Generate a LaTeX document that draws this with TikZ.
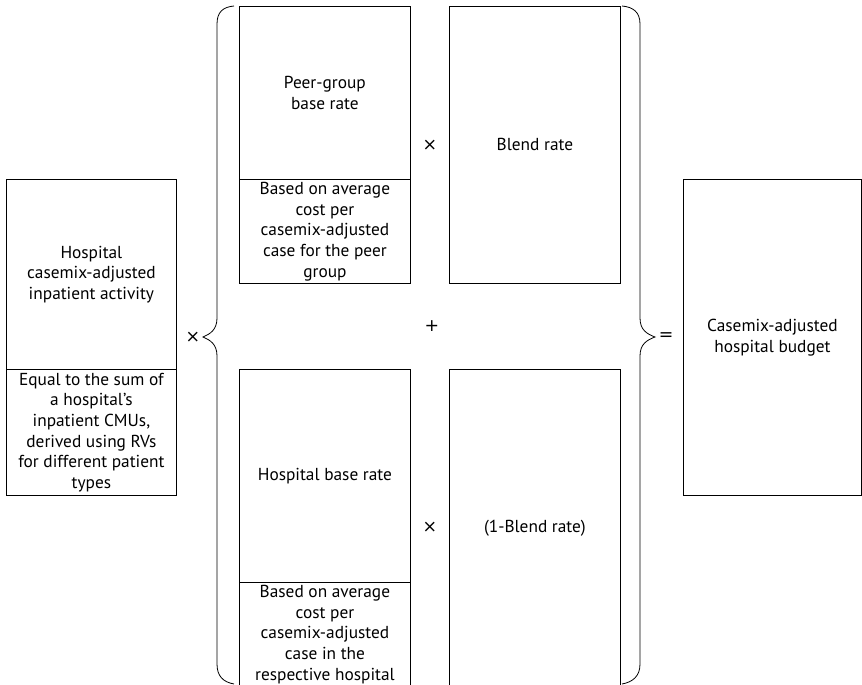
\documentclass[tikz,border=0pt]{standalone}
\usepackage{fontspec}
\setmainfont{PT Sans}
\newfontfamily\opfont{DejaVu Sans}
\begin{document}
\begin{tikzpicture}[x=0.75pt,y=-0.75pt]
      % Define styles for boxes
      \tikzstyle{box} = [anchor=north west, draw, rectangle, line width=0.6pt,
      minimum width=127.5pt, align=center, inner sep=0pt,
      font=\fontsize{13}{15.5}\selectfont]
      \tikzstyle{op} = [font=\opfont\fontsize{13}{15}\selectfont]
      \tikzstyle{brace} = [line width=0.6pt]

      \useasboundingbox (0,0) rectangle (862,684);
      \clip (0,0) rectangle (862,684);

      % Left factor
      \node[box, minimum height=142.5pt] (activity) at (6,179)
      {Hospital\\casemix-adjusted\\inpatient activity};
      \node[box, minimum height=94.5pt] (activitynote) at (6,369)
      {Equal to the sum of\\a hospital’s\\inpatient CMUs,\\derived using RVs\\for different patient\\types};

      % Upper term
      \node[box, minimum width=128.25pt, minimum height=129.75pt] (peer) at (239,6)
      {Peer-group\\base rate};
      \node[box, minimum width=128.25pt, minimum height=78pt] (peernote) at (239,179)
      {Based on average\\cost per\\casemix-adjusted\\case for the peer\\group};
      \node[box, minimum width=128.25pt, minimum height=207.75pt] (blend) at (449,6)
      {Blend rate};

      % Lower term
      \node[box, minimum width=128.25pt, minimum height=159.75pt] (base) at (239,369)
      {Hospital base rate};
      \node[box, minimum width=128.25pt, minimum height=78pt] (basenote) at (239,582)
      {Based on average\\cost per\\casemix-adjusted\\case in the\\respective hospital};
      \node[box, minimum width=128.25pt, minimum height=238.5pt] (oneminus) at (449,369)
      {(1-Blend rate)};

      % Result
      \node[box, minimum width=133.5pt, minimum height=237pt] (budget) at (683,179)
      {Casemix-adjusted\\hospital budget};

      % Operators
      \node[op] (times1) at (193,337) {×};
      \node[op] (times2) at (430,145) {×};
      \node[op] (plus) at (432,326) {+};
      \node[op] (times3) at (430,527) {×};
      \node[op] (equals) at (666,337) {=};

      % Braces
      \draw[brace] (234,6) .. controls (223,7) and (217,12) .. (217,24)
      -- (217,318) .. controls (217,330) and (210,334) .. (203,337)
      .. controls (210,340) and (217,344) .. (217,356)
      -- (217,664) .. controls (217,676) and (223,682) .. (234,684);
      \draw[brace] (622,6) .. controls (633,7) and (640,12) .. (640,24)
      -- (640,318) .. controls (640,330) and (647,334) .. (655,337)
      .. controls (647,340) and (640,344) .. (640,356)
      -- (640,664) .. controls (640,676) and (633,682) .. (622,684);
    \end{tikzpicture}
\end{document}
